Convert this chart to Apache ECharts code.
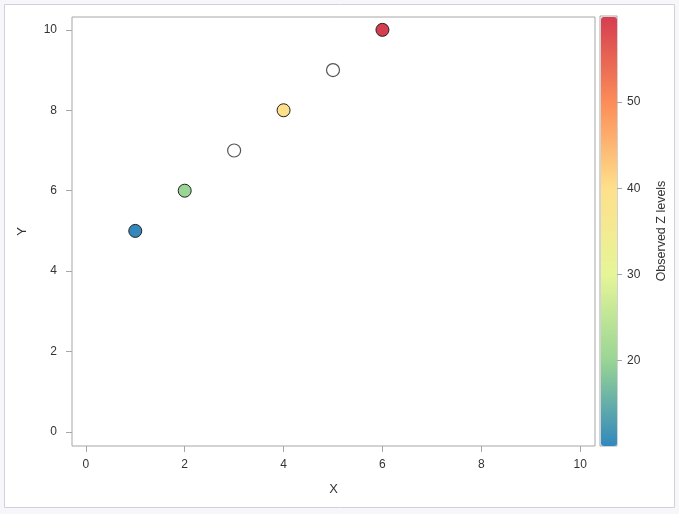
<!DOCTYPE html>
<html>
<head>
<meta charset="utf-8">
<script src="https://cdn.jsdelivr.net/npm/echarts@6/dist/echarts.min.js"></script>
<style>
  html, body { margin: 0; padding: 0; background: #f6f6fb; }
  #chart { width: 679px; height: 514px; }
</style>
</head>
<body>
<div id="chart"></div>
<script>
// observed points (x, y, z)
const xObs = [1, 2, 4, 6]
const yObs = [5, 6, 8, 10]
const zObs = [10, 20, 40, 60]
// points with missing z
const xMiss = [3, 5]
const yMiss = [7, 9]

const xTicks = [0, 2, 4, 6, 8, 10]
const yTicks = [0, 2, 4, 6, 8, 10]
const zTicks = [20, 30, 40, 50]
const rampColors = ['#3288bd', '#99d594', '#e6f598', '#fee08b', '#fc8d59', '#d53e4f']

const font = 'Liberation Sans, Arial, sans-serif'
const chart = echarts.init(document.getElementById('chart'))

const option = {
  backgroundColor: '#f6f6fb',
  animation: false,
  textStyle: { fontFamily: font },
  graphic: [{
    type: 'rect', z: -10,
    shape: { x: 4.5, y: 4.5, width: 670, height: 503 },
    style: { fill: '#fff', stroke: '#d0d1dc', lineWidth: 1 }
  }],
  grid: [
    { left: 72, right: 84, top: 17, bottom: 68, show: true, borderColor: '#a6a6a6', borderWidth: 1 },
    { left: 600, width: 17, top: 16, height: 430, show: true, borderColor: '#a6a6a6', borderWidth: 1 }
  ],
  xAxis: [
    {
      type: 'value', gridIndex: 0, min: -0.28, max: 10.3,
      name: 'X', nameLocation: 'middle', nameGap: 37,
      nameTextStyle: { color: '#333', fontSize: 13, fontFamily: font },
      axisLine: { show: false, onZero: false },
      axisTick: { show: true, length: 6, customValues: xTicks, lineStyle: { color: '#a6a6a6' } },
      axisLabel: { customValues: xTicks, color: '#333', fontSize: 12, margin: 13 },
      splitLine: { show: false }
    },
    { type: 'value', gridIndex: 1, min: 0, max: 1, show: false }
  ],
  yAxis: [
    {
      type: 'value', gridIndex: 0, min: -0.35, max: 10.32,
      name: 'Y', nameLocation: 'middle', nameGap: 43, nameRotate: 90,
      nameTextStyle: { color: '#333', fontSize: 13, fontFamily: font },
      axisLine: { show: false, onZero: false },
      axisTick: { show: true, length: 6, customValues: yTicks, lineStyle: { color: '#a6a6a6' } },
      axisLabel: { customValues: yTicks, color: '#333', fontSize: 12, margin: 15 },
      splitLine: { show: false }
    },
    {
      type: 'value', gridIndex: 1, position: 'right', min: 10.1, max: 60,
      name: 'Observed Z levels', nameLocation: 'middle', nameGap: 38, nameRotate: 90,
      nameTextStyle: { color: '#333', fontSize: 12.5, fontFamily: font },
      axisLine: { show: false, onZero: false },
      axisTick: { show: true, length: 5, customValues: zTicks, lineStyle: { color: '#a6a6a6' } },
      axisLabel: { customValues: zTicks, color: '#333', fontSize: 12, margin: 10 },
      splitLine: { show: false }
    }
  ],
  visualMap: {
    type: 'continuous', min: 10, max: 60, dimension: 2, seriesIndex: 0,
    inRange: { color: rampColors },
    left: 601, top: 17, itemWidth: 16, itemHeight: 429, padding: 0,
    calculable: false, text: ['', ''], hoverLink: false
  },
  series: [
    {
      type: 'scatter', xAxisIndex: 0, yAxisIndex: 0,
      symbolSize: 13,
      itemStyle: { borderColor: '#222', borderWidth: 1, opacity: 1 },
      data: xObs.map((x, i) => [x, yObs[i], zObs[i]])
    },
    {
      type: 'scatter', xAxisIndex: 0, yAxisIndex: 0,
      symbolSize: 13,
      itemStyle: { color: '#fff', borderColor: '#555', borderWidth: 1.2, opacity: 1 },
      data: xMiss.map((x, i) => [x, yMiss[i]])
    }
  ]
}
chart.setOption(option)
</script>
</body>
</html>
